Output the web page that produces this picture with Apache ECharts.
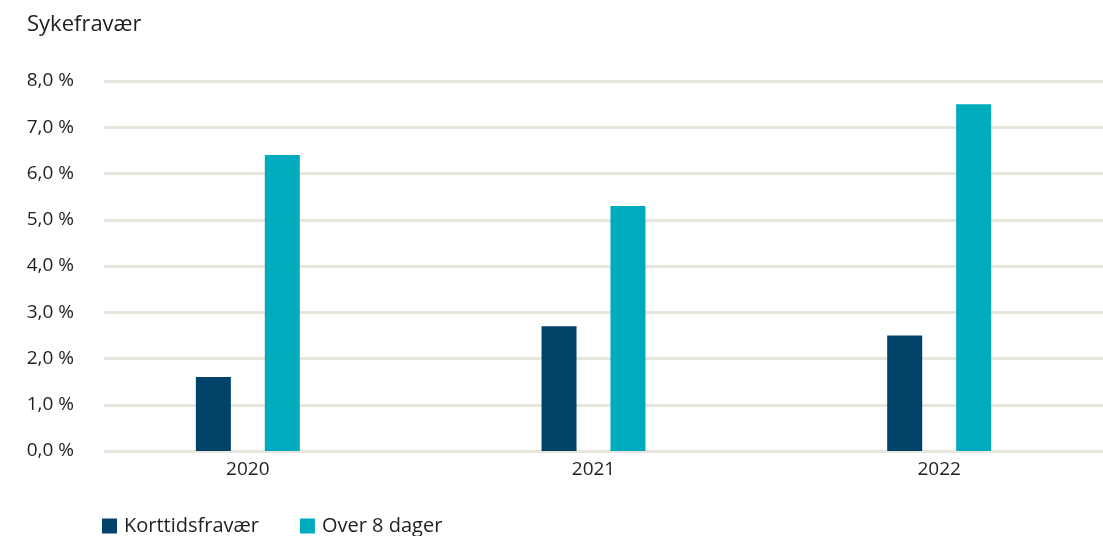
<!DOCTYPE html>
<html>
<head>
<meta charset="utf-8">
<script src="https://cdn.jsdelivr.net/npm/echarts@6/dist/echarts.min.js"></script>
<style>
html,body{margin:0;padding:0;background:#fff;overflow:hidden;}
#c{width:1120px;height:536px;}
</style>
</head>
<body>
<div id="c"></div>
<script>
const categories = ['2020', '2021', '2022'];
const seriesNames = ['Korttidsfravær', 'Over 8 dager'];
const korttid = [1.6, 2.7, 2.5];
const over8 = [6.4, 5.3, 7.5];
const yMin = 0, yMax = 8, yStep = 1;
const title = 'Sykefravær';

const FONT = '"Open Sans", "Noto Sans", sans-serif';
const TXT = '#1f1f1f';
const chart = echarts.init(document.getElementById('c'), null, {renderer: 'canvas'});
const fmt = v => v.toFixed(1).replace('.', ',') + ' %';

chart.setOption({
  animation: false,
  title: {
    text: title, left: 22, top: 9,
    textStyle: {fontFamily: FONT, fontSize: 22, fontWeight: 'normal', color: TXT}
  },
  legend: {
    left: 97, top: 511, itemWidth: 15, itemHeight: 15, itemGap: 41,
    icon: 'rect',
    textStyle: {fontFamily: FONT, fontSize: 20, color: TXT, padding: [0,0,0,2]},
    data: seriesNames
  },
  grid: [
    {left: 104, right: 17, top: 81, bottom: 85},
    {left: 75, width: 1037, top: 81, bottom: 85}
  ],
  xAxis: [
    {type: 'category', gridIndex: 0, data: categories, show: false},
    {type: 'category', gridIndex: 1, data: categories,
     axisLine: {show: false}, axisTick: {show: false},
     axisLabel: {fontFamily: FONT, fontSize: 19, color: TXT, margin: 9}}
  ],
  yAxis: [
    {type: 'value', gridIndex: 0, min: yMin, max: yMax, interval: yStep,
     axisLine: {show: false}, axisTick: {show: false},
     axisLabel: {fontFamily: FONT, fontSize: 19, color: TXT, margin: 30, formatter: fmt},
     splitLine: {lineStyle: {color: '#e8e5dc', width: 3}}},
    {type: 'value', gridIndex: 1, min: yMin, max: yMax, interval: yStep, show: false,
     splitLine: {show: false}}
  ],
  series: [
    {name: seriesNames[0], type: 'bar', xAxisIndex: 1, yAxisIndex: 1, data: korttid,
     barWidth: 35, barGap: '97%', itemStyle: {color: '#004268'}},
    {name: seriesNames[1], type: 'bar', xAxisIndex: 1, yAxisIndex: 1, data: over8,
     barWidth: 35, barGap: '97%', itemStyle: {color: '#00abbe'}}
  ]
});
</script>
</body>
</html>
